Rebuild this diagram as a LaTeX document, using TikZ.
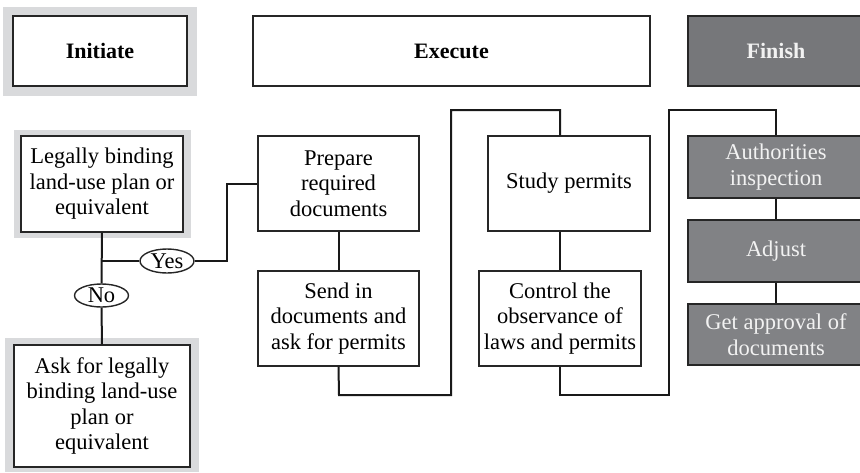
\documentclass[tikz,border=0pt]{standalone}
\usepackage{fontspec}
\setmainfont{Liberation Serif}
\usetikzlibrary{shapes.geometric,calc}
\definecolor{shade}{HTML}{D9DADC}
\definecolor{darkbox}{HTML}{76777A}
\definecolor{midbox}{HTML}{818285}
\definecolor{lighttext}{HTML}{F2F2F2}
\tikzset{
  box/.style={draw=black!85, line width=1.4pt, fill=white, rectangle, inner sep=0pt, align=center,
    font=\fontsize{22.5}{25.5}\selectfont},
  head/.style={box, font=\fontsize{22}{25}\selectfont\bfseries},
  backdrop/.style={fill=shade, draw=none, rectangle, inner sep=0pt},
  finbox/.style={box, fill=midbox, text=lighttext},
  finhead/.style={head, fill=darkbox, text=lighttext},
  oval/.style={draw=black!85, line width=1.4pt, fill=white, ellipse, inner sep=0pt, font=\fontsize{22.5}{25}\selectfont},
  link/.style={draw=black!90, line width=2pt}
}
\begin{document}
\begin{tikzpicture}[x=1pt,y=-1pt]
\useasboundingbox (0,0) rectangle (860,472);
\begin{scope}
\clip (0,0) rectangle (860,472);
% backdrops
\node[backdrop, minimum width=194pt, minimum height=89pt] (bgInit) at (100,51.5) {};
\node[backdrop, minimum width=177pt, minimum height=108pt] (bgLegal) at (102.5,184) {};
\node[backdrop, minimum width=194pt, minimum height=134pt] (bgAsk) at (102,405) {};
% headers
\node[head, minimum width=174pt, minimum height=70pt] (init) at (100,51) {Initiate};
\node[head, minimum width=397pt, minimum height=70pt] (exec) at (451.5,51) {Execute};
\node[finhead, minimum width=176pt, minimum height=70pt] (fin) at (776,51) {Finish};
% boxes
\node[box, minimum width=162pt, minimum height=96pt] (legal) at (102,184) {Legally binding\\land-use plan or\\equivalent};
\node[box, minimum width=176pt, minimum height=122pt] (ask) at (102,406) {Ask for legally\\binding land-use\\plan or\\equivalent};
\node[box, minimum width=161pt, minimum height=95pt] (prep) at (338.5,183.5) {Prepare\\required\\documents};
\node[box, minimum width=161pt, minimum height=95pt] (send) at (338.5,318.5) {Send in\\documents and\\ask for permits};
\node[box, minimum width=162pt, minimum height=95pt] (study) at (569,183.5) {Study permits};
\node[box, minimum width=162pt, minimum height=95pt] (ctrl) at (560,318.5) {Control the\\observance of\\laws and permits};
\node[finbox, minimum width=176pt, minimum height=62pt] (auth) at (776,167) {Authorities\\inspection};
\node[finbox, minimum width=176pt, minimum height=62pt] (adj) at (776,251) {Adjust};
\node[finbox, minimum width=176pt, minimum height=61pt] (appr) at (776,334.5) {Get approval of\\documents};
% decisions
\node[oval, minimum width=54pt, minimum height=24pt] (yes) at (167,261) {Yes};
\node[oval, minimum width=54pt, minimum height=23pt] (no) at (101.5,295.5) {No};
% coordinates
\coordinate (split) at (102,261);
\coordinate (yesbend) at (227,261);
\coordinate (a1) at (339,395);
\coordinate (a2) at (451,395);
\coordinate (a3) at (451,110);
\coordinate (a4) at (560,110);
\coordinate (b1) at (560,395);
\coordinate (b2) at (669,395);
\coordinate (b3) at (669,110);
\coordinate (b4) at (776,110);
\end{scope}
% connectors
\draw[link] (legal.south) -- (no.north);
\draw[link] (no.south) -- (ask.north);
\draw[link] (split) -- (yes.west);
\draw[link] (yes.east) -- (yesbend) |- (prep.west);
\draw[link] (prep.south) -- (send.north);
\draw[link] (send.south) -- (a1) -- (a2) -- (a3) -- (a4) -- (a4 |- study.north);
\draw[link] (ctrl.north |- study.south) -- (ctrl.north);
\draw[link] (ctrl.south) -- (b1) -- (b2) -- (b3) -- (b4) -- (auth.north);
\draw[link] (auth.south) -- (adj.north);
\draw[link] (adj.south) -- (appr.north);
\end{tikzpicture}
\end{document}
